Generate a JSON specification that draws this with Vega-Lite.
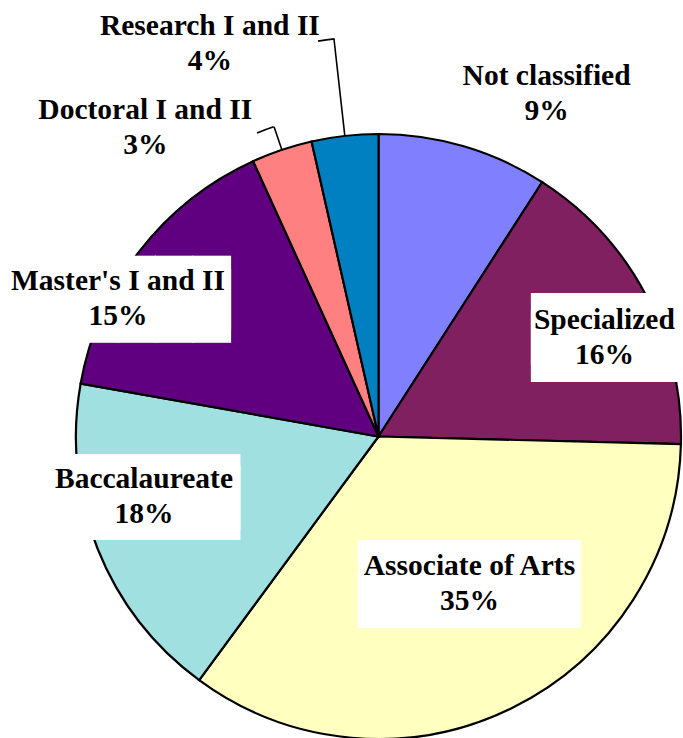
{
  "$schema": "https://vega.github.io/schema/vega-lite/v6.json",
  "width": 605,
  "height": 605,
  "autosize": {"type": "none"},
  "padding": {"left": 76, "top": 134, "right": 2, "bottom": 0},
  "background": "white",
  "config": {"view": {"stroke": null}},
  "data": {"values": [
    {"rank": 1, "category": "Not classified", "value": 9.1, "label": "Not classified\n9%"},
    {"rank": 2, "category": "Specialized", "value": 16.3, "label": "Specialized\n16%"},
    {"rank": 3, "category": "Associate of Arts", "value": 34.7, "label": "Associate of Arts\n35%"},
    {"rank": 4, "category": "Baccalaureate", "value": 17.7, "label": "Baccalaureate\n18%"},
    {"rank": 5, "category": "Master's I and II", "value": 15.4, "label": "Master's I and II\n15%"},
    {"rank": 6, "category": "Doctoral I and II", "value": 3.25, "label": "Doctoral I and II\n3%"},
    {"rank": 7, "category": "Research I and II", "value": 3.55, "label": "Research I and II\n4%"}
  ]},
  "encoding": {
    "theta": {"field": "value", "type": "quantitative", "stack": true},
    "order": {"field": "rank", "type": "quantitative"},
    "detail": {"field": "category", "type": "nominal"}
  },
  "layer": [
    {
      "mark": {"type": "arc", "stroke": "black", "strokeWidth": 2.2},
      "encoding": {
        "color": {"field": "category", "type": "nominal", "legend": null,
          "scale": {"domain": ["Not classified", "Specialized", "Associate of Arts", "Baccalaureate", "Master's I and II", "Doctoral I and II", "Research I and II"],
                    "range": ["#8080FF", "#802060", "#FFFFC0", "#A0E0E0", "#600080", "#FF8080", "#0080C0"]}}
      }
    },
    {
      "mark": {"type": "arc", "radius": 400, "radius2": 302.5, "padAngle": 0.5, "fillOpacity": 0, "stroke": "black", "strokeWidth": 1.6},
      "encoding": {"opacity": {"condition": {"test": "datum.category === 'Research I and II'", "value": 1}, "value": 0}}
    },
    {
      "mark": {"type": "arc", "radius": 400, "radius2": 400, "padAngle": 0.1281, "thetaOffset": -0.0194, "fillOpacity": 0, "stroke": "black", "strokeWidth": 1.6},
      "encoding": {"opacity": {"condition": {"test": "datum.category === 'Research I and II'", "value": 1}, "value": 0}}
    },
    {
      "mark": {"type": "arc", "radius": 327, "radius2": 302.5, "padAngle": 0.5, "fillOpacity": 0, "stroke": "black", "strokeWidth": 1.6},
      "encoding": {"opacity": {"condition": {"test": "datum.category === 'Doctoral I and II'", "value": 1}, "value": 0}}
    },
    {
      "mark": {"type": "arc", "radius": 327, "radius2": 327, "padAngle": 0.1061, "thetaOffset": -0.0283, "fillOpacity": 0, "stroke": "black", "strokeWidth": 1.6},
      "encoding": {"opacity": {"condition": {"test": "datum.category === 'Doctoral I and II'", "value": 1}, "value": 0}}
    },
    {
      "mark": {"type": "text", "radius": 245.4, "dx": 9, "dy": 10.1, "font": "DejaVu Sans Mono", "fontSize": 60.6, "lineHeight": 17.4, "lineBreak": "\n", "align": "center", "baseline": "middle", "color": "white"},
      "encoding": {"text": {"condition": {"test": "datum.category === 'Specialized'", "value": "████\n████"}, "value": ""}}
    },
    {
      "mark": {"type": "text", "radius": 172.7, "dx": 15, "dy": -4.6, "font": "DejaVu Sans Mono", "fontSize": 73.8, "lineHeight": 20, "lineBreak": "\n", "align": "center", "baseline": "middle", "color": "white"},
      "encoding": {"text": {"condition": {"test": "datum.category === 'Associate of Arts'", "value": "█████"}, "value": ""}}
    },
    {
      "mark": {"type": "text", "radius": 240.7, "dx": -10, "dy": -31.85, "font": "DejaVu Sans Mono", "fontSize": 63.1, "lineHeight": 11.5, "lineBreak": "\n", "align": "center", "baseline": "middle", "color": "white"},
      "encoding": {"text": {"condition": {"test": "datum.category === 'Baccalaureate'", "value": "█████\n█████"}, "value": ""}}
    },
    {
      "mark": {"type": "text", "radius": 290.5, "dx": -31, "dy": 36.6, "font": "DejaVu Sans Mono", "fontSize": 62.3, "lineHeight": 12.5, "lineBreak": "\n", "align": "center", "baseline": "middle", "color": "white"},
      "encoding": {"text": {"condition": {"test": "datum.category === \"Master's I and II\"", "value": "██████\n██████"}, "value": ""}}
    },
    {
      "mark": {"type": "text", "radius": 376.2, "dx": 62, "dy": 0.5, "font": "Liberation Serif", "fontWeight": "bold", "fontSize": 29.5, "lineHeight": 35, "lineBreak": "\n", "align": "center", "baseline": "middle", "color": "black"},
      "encoding": {"text": {"condition": {"test": "datum.category === 'Not classified'", "field": "label", "type": "nominal"}, "value": ""}}
    },
    {
      "mark": {"type": "text", "radius": 245.4, "dx": 9, "dy": -1.5, "font": "Liberation Serif", "fontWeight": "bold", "fontSize": 29.5, "lineHeight": 35, "lineBreak": "\n", "align": "center", "baseline": "middle", "color": "black"},
      "encoding": {"text": {"condition": {"test": "datum.category === 'Specialized'", "field": "label", "type": "nominal"}, "value": ""}}
    },
    {
      "mark": {"type": "text", "radius": 172.7, "dx": 15, "dy": -25.5, "font": "Liberation Serif", "fontWeight": "bold", "fontSize": 29.5, "lineHeight": 35, "lineBreak": "\n", "align": "center", "baseline": "middle", "color": "black"},
      "encoding": {"text": {"condition": {"test": "datum.category === 'Associate of Arts'", "field": "label", "type": "nominal"}, "value": ""}}
    },
    {
      "mark": {"type": "text", "radius": 240.7, "dx": -11, "dy": -46.5, "font": "Liberation Serif", "fontWeight": "bold", "fontSize": 29.5, "lineHeight": 35, "lineBreak": "\n", "align": "center", "baseline": "middle", "color": "black"},
      "encoding": {"text": {"condition": {"test": "datum.category === 'Baccalaureate'", "field": "label", "type": "nominal"}, "value": ""}}
    },
    {
      "mark": {"type": "text", "radius": 290.5, "dx": -31, "dy": 22.5, "font": "Liberation Serif", "fontWeight": "bold", "fontSize": 29.5, "lineHeight": 35, "lineBreak": "\n", "align": "center", "baseline": "middle", "color": "black"},
      "encoding": {"text": {"condition": {"test": "datum.category === \"Master's I and II\"", "field": "label", "type": "nominal"}, "value": ""}}
    },
    {
      "mark": {"type": "text", "radius": 366.9, "dx": -116, "dy": 21.5, "font": "Liberation Serif", "fontWeight": "bold", "fontSize": 29.5, "lineHeight": 35, "lineBreak": "\n", "align": "center", "baseline": "middle", "color": "black"},
      "encoding": {"text": {"condition": {"test": "datum.category === 'Doctoral I and II'", "field": "label", "type": "nominal"}, "value": ""}}
    },
    {
      "mark": {"type": "text", "radius": 409.9, "dx": -123, "dy": -3.5, "font": "Liberation Serif", "fontWeight": "bold", "fontSize": 29.5, "lineHeight": 35, "lineBreak": "\n", "align": "center", "baseline": "middle", "color": "black"},
      "encoding": {"text": {"condition": {"test": "datum.category === 'Research I and II'", "field": "label", "type": "nominal"}, "value": ""}}
    }
  ]
}
